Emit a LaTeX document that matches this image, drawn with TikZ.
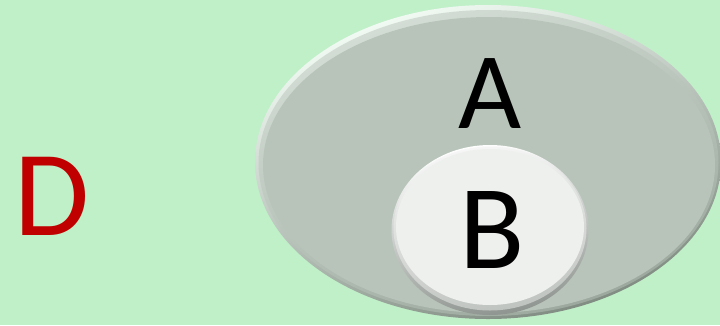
\documentclass[tikz,border=0pt]{standalone}
\usepackage{fontspec}
\setmainfont{Carlito}
\usetikzlibrary{shapes.geometric}
\definecolor{bg}{HTML}{C0F0C8}
\definecolor{afill}{HTML}{B8C4BA}
\definecolor{arimlight}{HTML}{F4FCF6}
\definecolor{arimdark}{HTML}{7E8A80}
\definecolor{bfill}{HTML}{EEF0EE}
\definecolor{brimlight}{HTML}{FFFFFF}
\definecolor{brimdark}{HTML}{8E948F}
\definecolor{dred}{HTML}{C00000}
\tikzset{
  rim/.style={ellipse, inner sep=0pt, draw=none},
  letter/.style={anchor=base, inner sep=0pt, text=black},
}
\begin{document}
\begin{tikzpicture}[x=1pt,y=-1pt]
\fill[bg] (0,0) rectangle (720,325);
\useasboundingbox (0,0) rectangle (720,325);
% outer ellipse A
\node[rim, minimum width=466pt, minimum height=314pt, top color=arimlight, bottom color=arimdark, shading angle=20] (Arim) at (488,162) {};
\node[rim, minimum width=460pt, minimum height=306pt, fill=afill, fill opacity=0.5] (Amid) at (488.5,163) {};
\node[rim, minimum width=452pt, minimum height=296pt, fill=afill] (Abody) at (489,165) {};
% inner ellipse B
\node[rim, minimum width=197pt, minimum height=170pt, top color=brimlight, bottom color=brimdark, shading angle=10] (Brim) at (490,230) {};
\node[rim, minimum width=193pt, minimum height=164pt, fill=bfill, fill opacity=0.5] (Bmid) at (490,228.5) {};
\node[rim, minimum width=188pt, minimum height=156pt, fill=bfill] (Bbody) at (490,227) {};
% letters
\node[letter, font=\fontsize{109}{109}\selectfont] (A) at (490,128) {A};
\node[letter, font=\fontsize{120}{120}\selectfont] (B) at (492,268) {B};
\node[letter, text=dred, font=\fontsize{122}{122}\selectfont] (D) at (52,235) {D};
\end{tikzpicture}
\end{document}
